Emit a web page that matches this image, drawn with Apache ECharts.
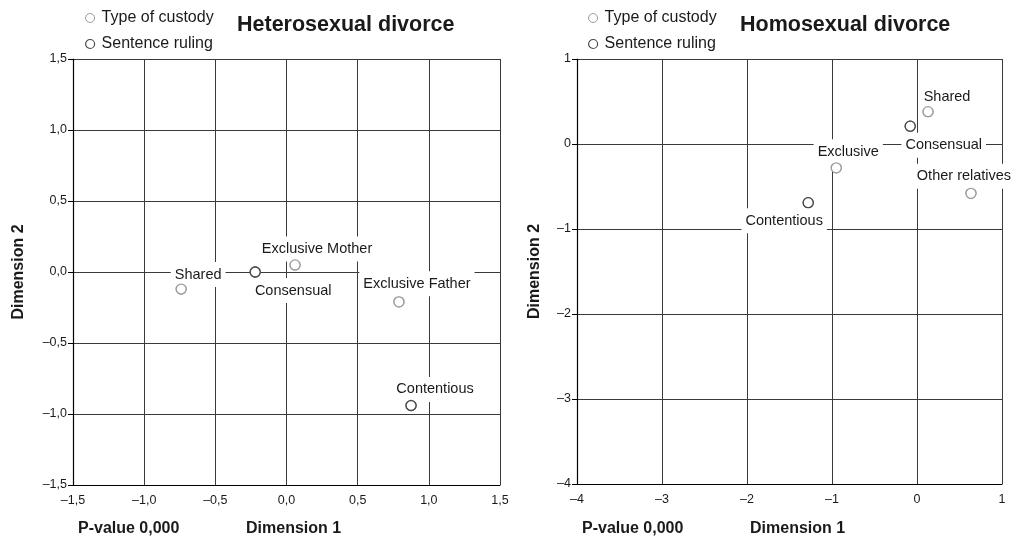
<!DOCTYPE html>
<html>
<head>
<meta charset="utf-8">
<script src="https://cdn.jsdelivr.net/npm/echarts@6/dist/echarts.min.js"></script>
<style>
html,body{margin:0;padding:0;background:#fff;}
#main{width:1015px;height:536px;}
</style>
</head>
<body>
<div id="main"></div>
<script>
// ---- data ----
const seriesNames = ['Type of custody', 'Sentence ruling'];

const heteroCustodyNames = ['Shared', 'Exclusive Mother', 'Exclusive Father'];
const heteroCustodyX = [-0.74, 0.06, 0.79];
const heteroCustodyY = [-0.12, 0.05, -0.21];
const heteroRulingNames = ['Consensual', 'Contentious'];
const heteroRulingX = [-0.22, 0.875];
const heteroRulingY = [0.0, -0.94];

const homoCustodyNames = ['Shared', 'Exclusive', 'Other relatives'];
const homoCustodyX = [0.13, -0.95, 0.635];
const homoCustodyY = [0.38, -0.28, -0.58];
const homoRulingNames = ['Consensual', 'Contentious'];
const homoRulingX = [-0.08, -1.28];
const homoRulingY = [0.21, -0.69];

const heteroTicks = ['–1,5', '–1,0', '–0,5', '0,0', '0,5', '1,0', '1,5'];
const homoTicks = ['–4', '–3', '–2', '–1', '0', '1'];

const titles = ['Heterosexual divorce', 'Homosexual divorce'];
const pValueText = 'P-value 0,000';
const dim1Text = 'Dimension 1';
const dim2Text = 'Dimension 2';

// ---- layout / style (label offsets in px from the point centre) ----
const labelOffsets = [
  {'Shared': [17, -14.5], 'Exclusive Mother': [22, -16], 'Exclusive Father': [18, -18], 'Consensual': [38, 18.5], 'Contentious': [24, -16]},
  {'Shared': [19, -15], 'Exclusive': [12, -16], 'Other relatives': [-7, -17], 'Consensual': [33.5, 19], 'Contentious': [-24, 18]}
];
const FONT = "'Liberation Sans', Arial, Helvetica, sans-serif";
const TXT = '#1a1a1a';
const LIGHT = '#9c9c9c';
const DARK = '#4a4a4a';

function build(names, xs, ys, chartIdx) {
  return names.map((n, i) => ({
    name: n,
    value: [xs[i], ys[i]],
    label: {offset: labelOffsets[chartIdx][n]}
  }));
}

// series carrying the text labels (white boxes that break the grid lines)
function labelled(name, data, idx, color) {
  return {
    type: 'scatter',
    name: name,
    xAxisIndex: idx,
    yAxisIndex: idx,
    data: data,
    symbol: 'circle',
    symbolSize: 10,
    itemStyle: {color: '#fff', borderColor: color, borderWidth: 1.3, opacity: 1},
    label: {
      show: true,
      position: 'inside',
      formatter: p => p.name,
      fontFamily: FONT,
      fontSize: 14.5,
      color: TXT,
      backgroundColor: '#fff',
      padding: [5, 4, 5, 4]
    },
    emphasis: {disabled: true},
    silent: true,
    z: 2
  };
}
// same points redrawn on top so the label boxes never hide a marker
function markers(name, data, idx, color) {
  return {
    type: 'scatter',
    name: name,
    xAxisIndex: idx,
    yAxisIndex: idx,
    data: data.map(d => ({name: d.name, value: d.value})),
    symbol: 'circle',
    symbolSize: 10,
    itemStyle: {color: '#fff', borderColor: color, borderWidth: 1.3, opacity: 1},
    label: {show: false},
    emphasis: {disabled: true},
    z: 6
  };
}

function tickFmt(ticks, min, interval) {
  return v => ticks[Math.round((v - min) / interval)];
}

function xAxis(idx, min, max, interval, ticks) {
  return {
    type: 'value', gridIndex: idx, min: min, max: max, interval: interval,
    axisLine: {show: true, onZero: false, lineStyle: {color: '#000', width: 1.2}},
    axisTick: {show: false},
    axisLabel: {formatter: tickFmt(ticks, min, interval), fontFamily: FONT, fontSize: 12.5, color: TXT, margin: 9},
    splitLine: {show: true, lineStyle: {color: '#3a3a3a', width: 1}}
  };
}
function yAxis(idx, min, max, interval, ticks, gap) {
  return {
    type: 'value', gridIndex: idx, min: min, max: max, interval: interval,
    name: dim2Text, nameLocation: 'middle', nameGap: gap, nameRotate: 90,
    nameTextStyle: {fontFamily: FONT, fontSize: 16, fontWeight: 'bold', color: TXT},
    axisLine: {show: true, onZero: false, lineStyle: {color: '#000', width: 1.2}},
    axisTick: {show: true, length: 5, lineStyle: {color: '#000'}},
    axisLabel: {formatter: tickFmt(ticks, min, interval), fontFamily: FONT, fontSize: 12.5, color: TXT, margin: 6},
    splitLine: {show: true, lineStyle: {color: '#3a3a3a', width: 1}}
  };
}

function legend(left) {
  return {
    orient: 'vertical', left: left, top: 5, itemGap: 10,
    itemWidth: 9, itemHeight: 9,
    selectedMode: false,
    data: [
      {name: seriesNames[0], itemStyle: {color: '#fff', borderColor: LIGHT, borderWidth: 1}},
      {name: seriesNames[1], itemStyle: {color: '#fff', borderColor: DARK, borderWidth: 1.2}}
    ],
    textStyle: {fontFamily: FONT, fontSize: 16, color: TXT, padding: [0, 0, 0, 2]}
  };
}

function bottomText(x, text) {
  return {type: 'text', left: x, top: 521, style: {text: text, font: "bold 16px " + FONT, fill: TXT}};
}

const chart = echarts.init(document.getElementById('main'), null, {renderer: 'canvas'});
const hcData = build(heteroCustodyNames, heteroCustodyX, heteroCustodyY, 0);
const hrData = build(heteroRulingNames, heteroRulingX, heteroRulingY, 0);
const mcData = build(homoCustodyNames, homoCustodyX, homoCustodyY, 1);
const mrData = build(homoRulingNames, homoRulingX, homoRulingY, 1);
chart.setOption({
  backgroundColor: '#fff',
  animation: false,
  title: [
    {text: titles[0], left: 232, top: 9, textStyle: {fontFamily: FONT, fontSize: 21.5, fontWeight: 'bold', color: TXT}},
    {text: titles[1], left: 735, top: 9, textStyle: {fontFamily: FONT, fontSize: 21.5, fontWeight: 'bold', color: TXT}}
  ],
  legend: [legend(80), legend(583)],
  grid: [
    {left: 73, right: 515, top: 59, bottom: 51},
    {left: 577, right: 13, top: 59, bottom: 52}
  ],
  xAxis: [
    xAxis(0, -1.5, 1.5, 0.5, heteroTicks),
    xAxis(1, -4, 1, 1, homoTicks)
  ],
  yAxis: [
    yAxis(0, -1.5, 1.5, 0.5, heteroTicks, 46),
    yAxis(1, -4, 1, 1, homoTicks, 34)
  ],
  graphic: [
    bottomText(78, pValueText),
    bottomText(246, dim1Text),
    bottomText(582, pValueText),
    bottomText(750, dim1Text)
  ],
  series: [
    labelled(seriesNames[0], hcData, 0, LIGHT),
    labelled(seriesNames[1], hrData, 0, DARK),
    labelled(seriesNames[0], mcData, 1, LIGHT),
    labelled(seriesNames[1], mrData, 1, DARK),
    markers(seriesNames[0], hcData, 0, LIGHT),
    markers(seriesNames[1], hrData, 0, DARK),
    markers(seriesNames[0], mcData, 1, LIGHT),
    markers(seriesNames[1], mrData, 1, DARK)
  ]
});
</script>
</body>
</html>
